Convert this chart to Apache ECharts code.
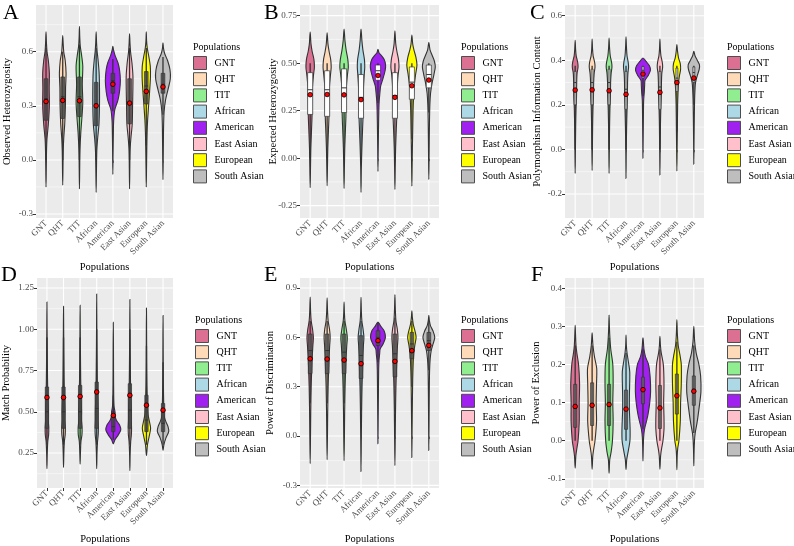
<!DOCTYPE html>
<html>
<head>
<meta charset="utf-8">
<script src="https://cdn.jsdelivr.net/npm/echarts@6/dist/echarts.min.js"></script>
<style>
  html, body { margin: 0; padding: 0; background: #fff; }
  #chart { width: 794px; height: 546px; }
</style>
</head>
<body>
<div id="chart"></div>
<script>
// populations, in plot order
var POPS = ['GNT', 'QHT', 'TIT', 'African', 'American', 'East Asian', 'European', 'South Asian'];
var COLORS = ['#DB7093', '#FFDAB9', '#90EE90', '#ADD8E6', '#A020F0', '#FFC0CB', '#FFFF00', '#BEBEBE'];

// violin outlines: [value, half width in x units], bottom tip to top tip
// box stats: [lower whisker, q1, median, q3, upper whisker]

// A - observed heterozygosity
var obsHetTicks = [-0.3, 0, 0.3, 0.6];
var obsHetMinor = [-0.15, 0.15, 0.45, 0.75];
var obsHetViolin = [
    [[-0.15,0],[-0.05,0.015],[0.05,0.03],[0.12,0.06],[0.2,0.14],[0.3,0.2],[0.4,0.19],[0.48,0.2],[0.55,0.14],[0.6,0.06],[0.65,0.025],[0.71,0]],
    [[-0.14,0],[-0.05,0.015],[0.05,0.03],[0.12,0.06],[0.2,0.12],[0.3,0.16],[0.4,0.17],[0.48,0.2],[0.55,0.15],[0.6,0.06],[0.65,0.025],[0.69,0]],
    [[-0.16,0],[-0.05,0.015],[0.05,0.03],[0.15,0.08],[0.25,0.16],[0.32,0.2],[0.42,0.17],[0.52,0.2],[0.58,0.13],[0.63,0.05],[0.68,0.02],[0.74,0]],
    [[-0.18,0],[-0.05,0.02],[0.05,0.04],[0.12,0.09],[0.2,0.17],[0.3,0.2],[0.4,0.2],[0.48,0.18],[0.55,0.12],[0.6,0.06],[0.65,0.025],[0.71,0]],
    [[-0.08,0],[0.05,0.015],[0.15,0.03],[0.22,0.05],[0.28,0.12],[0.33,0.3],[0.38,0.4],[0.44,0.45],[0.5,0.4],[0.54,0.3],[0.58,0.13],[0.61,0.04],[0.63,0]],
    [[-0.16,0],[-0.05,0.015],[0.05,0.03],[0.12,0.08],[0.2,0.16],[0.3,0.18],[0.4,0.2],[0.47,0.2],[0.54,0.14],[0.6,0.06],[0.65,0.025],[0.7,0]],
    [[-0.15,0],[-0.05,0.015],[0.05,0.03],[0.15,0.05],[0.22,0.08],[0.3,0.14],[0.38,0.2],[0.46,0.25],[0.52,0.24],[0.57,0.16],[0.62,0.06],[0.66,0.02],[0.71,0]],
    [[-0.11,0],[0.0,0.015],[0.1,0.025],[0.2,0.04],[0.27,0.07],[0.33,0.15],[0.39,0.3],[0.45,0.44],[0.5,0.42],[0.55,0.28],[0.59,0.1],[0.62,0.03],[0.65,0]]
];
var obsHetBox = [[0.0,0.22,0.34,0.45,0.62],[0.0,0.23,0.35,0.46,0.6],[0.0,0.24,0.35,0.46,0.64],[0.0,0.19,0.31,0.43,0.62],
    [0.27,0.37,0.44,0.48,0.56],[0.0,0.2,0.32,0.45,0.62],[0.08,0.31,0.41,0.49,0.62],[0.25,0.37,0.42,0.48,0.57]];
var obsHetMean = [0.324, 0.33, 0.328, 0.30, 0.42, 0.315, 0.38, 0.405];

// B - expected heterozygosity
var expHetTicks = [-0.25, 0, 0.25, 0.5, 0.75];
var expHetMinor = [-0.125, 0.125, 0.375, 0.625];
var expHetViolin = [
    [[-0.156,0],[-0.05,0.02],[0.05,0.04],[0.15,0.08],[0.22,0.11],[0.3,0.12],[0.38,0.14],[0.44,0.2],[0.48,0.25],[0.52,0.22],[0.56,0.12],[0.6,0.05],[0.663,0]],
    [[-0.145,0],[-0.05,0.02],[0.05,0.04],[0.15,0.08],[0.22,0.11],[0.3,0.12],[0.38,0.14],[0.44,0.2],[0.48,0.24],[0.52,0.21],[0.56,0.12],[0.6,0.05],[0.66,0]],
    [[-0.16,0],[-0.05,0.02],[0.05,0.04],[0.15,0.08],[0.22,0.11],[0.3,0.12],[0.38,0.14],[0.44,0.2],[0.48,0.25],[0.52,0.22],[0.57,0.12],[0.62,0.05],[0.68,0]],
    [[-0.18,0],[-0.05,0.02],[0.05,0.05],[0.15,0.09],[0.22,0.12],[0.3,0.13],[0.38,0.15],[0.44,0.19],[0.48,0.22],[0.52,0.2],[0.57,0.11],[0.62,0.05],[0.68,0]],
    [[-0.07,0],[0.05,0.015],[0.15,0.03],[0.25,0.05],[0.3,0.07],[0.34,0.11],[0.38,0.16],[0.42,0.3],[0.46,0.42],[0.49,0.45],[0.52,0.36],[0.54,0.2],[0.555,0.06],[0.573,0]],
    [[-0.165,0],[-0.05,0.02],[0.05,0.04],[0.15,0.08],[0.22,0.11],[0.3,0.12],[0.38,0.14],[0.44,0.19],[0.48,0.24],[0.52,0.21],[0.56,0.12],[0.6,0.05],[0.67,0]],
    [[-0.147,0],[-0.05,0.015],[0.05,0.03],[0.15,0.05],[0.25,0.07],[0.32,0.1],[0.38,0.14],[0.44,0.22],[0.49,0.3],[0.53,0.24],[0.57,0.12],[0.6,0.05],[0.648,0]],
    [[-0.112,0],[0.0,0.015],[0.1,0.025],[0.2,0.04],[0.28,0.06],[0.34,0.1],[0.39,0.18],[0.44,0.3],[0.48,0.38],[0.51,0.33],[0.54,0.2],[0.57,0.07],[0.61,0]]
];
var expHetBox = [[0.0,0.23,0.36,0.45,0.5],[0.0,0.22,0.36,0.46,0.5],[0.0,0.24,0.37,0.47,0.5],[0.0,0.21,0.32,0.44,0.5],
    [0.29,0.41,0.46,0.49,0.5],[0.0,0.21,0.33,0.45,0.5],[0.1,0.31,0.4,0.48,0.5],[0.24,0.37,0.44,0.49,0.5]];
var expHetMean = [0.334, 0.335, 0.333, 0.308, 0.435, 0.32, 0.381, 0.411];

// C - polymorphism information content
var picTicks = [-0.2, 0, 0.2, 0.4, 0.6];
var picMinor = [-0.1, 0.1, 0.3, 0.5];
var picViolin = [
    [[-0.108,0],[0.0,0.015],[0.1,0.03],[0.18,0.05],[0.24,0.08],[0.3,0.09],[0.34,0.11],[0.37,0.17],[0.39,0.15],[0.42,0.06],[0.45,0.025],[0.49,0]],
    [[-0.095,0],[0.0,0.015],[0.1,0.03],[0.18,0.05],[0.24,0.08],[0.3,0.09],[0.34,0.12],[0.37,0.17],[0.39,0.15],[0.42,0.06],[0.45,0.025],[0.495,0]],
    [[-0.108,0],[0.0,0.015],[0.1,0.03],[0.18,0.05],[0.24,0.08],[0.3,0.09],[0.34,0.12],[0.37,0.17],[0.39,0.15],[0.42,0.07],[0.46,0.025],[0.5,0]],
    [[-0.13,0],[0.0,0.015],[0.1,0.035],[0.18,0.06],[0.24,0.08],[0.3,0.09],[0.34,0.11],[0.37,0.15],[0.39,0.13],[0.42,0.06],[0.46,0.025],[0.505,0]],
    [[-0.04,0],[0.05,0.012],[0.15,0.025],[0.22,0.04],[0.26,0.08],[0.29,0.1],[0.31,0.12],[0.33,0.3],[0.355,0.44],[0.375,0.38],[0.395,0.18],[0.41,0]],
    [[-0.115,0],[0.0,0.015],[0.1,0.03],[0.18,0.05],[0.24,0.08],[0.3,0.09],[0.34,0.11],[0.37,0.16],[0.39,0.14],[0.42,0.06],[0.45,0.025],[0.495,0]],
    [[-0.097,0],[0.0,0.015],[0.1,0.03],[0.2,0.045],[0.26,0.07],[0.3,0.1],[0.33,0.15],[0.36,0.22],[0.385,0.2],[0.41,0.1],[0.44,0.04],[0.47,0]],
    [[-0.066,0],[0.05,0.015],[0.15,0.03],[0.22,0.045],[0.27,0.07],[0.3,0.1],[0.33,0.2],[0.36,0.32],[0.38,0.33],[0.4,0.2],[0.42,0.07],[0.44,0]]
];
var picBox = [[0.0,0.2,0.3,0.35,0.375],[0.0,0.2,0.3,0.36,0.375],[0.0,0.2,0.3,0.36,0.375],[0.0,0.18,0.27,0.35,0.375],
    [0.24,0.32,0.355,0.372,0.375],[0.0,0.18,0.28,0.35,0.375],[0.08,0.26,0.32,0.365,0.375],[0.2,0.3,0.345,0.37,0.375]];
var picMean = [0.266, 0.267, 0.263, 0.247, 0.338, 0.256, 0.30, 0.32];

// D - match probability
var mpTicks = [0.25, 0.5, 0.75, 1.0, 1.25];
var mpMinor = [0.125, 0.375, 0.625, 0.875, 1.125];
var mpViolin = [
    [[0.155,0],[0.25,0.02],[0.32,0.05],[0.36,0.1],[0.4,0.11],[0.45,0.08],[0.5,0.085],[0.55,0.07],[0.62,0.05],[0.7,0.035],[0.85,0.02],[1.0,0.01],[1.165,0]],
    [[0.163,0],[0.25,0.02],[0.32,0.05],[0.36,0.1],[0.4,0.11],[0.45,0.08],[0.5,0.085],[0.55,0.07],[0.62,0.05],[0.7,0.035],[0.85,0.02],[1.0,0.01],[1.14,0]],
    [[0.183,0],[0.25,0.02],[0.32,0.05],[0.36,0.11],[0.4,0.12],[0.45,0.08],[0.5,0.085],[0.55,0.07],[0.62,0.05],[0.7,0.035],[0.85,0.02],[1.0,0.01],[1.145,0]],
    [[0.155,0],[0.25,0.02],[0.32,0.05],[0.36,0.09],[0.4,0.1],[0.45,0.08],[0.5,0.08],[0.55,0.07],[0.62,0.05],[0.7,0.035],[0.85,0.02],[1.0,0.01],[1.214,0]],
    [[0.305,0],[0.33,0.1],[0.36,0.3],[0.39,0.45],[0.42,0.38],[0.45,0.18],[0.48,0.1],[0.5,0.1],[0.53,0.05],[0.6,0.025],[0.75,0.015],[0.9,0.01],[1.042,0]],
    [[0.143,0],[0.25,0.02],[0.32,0.05],[0.36,0.09],[0.4,0.1],[0.45,0.08],[0.5,0.08],[0.55,0.07],[0.62,0.05],[0.7,0.035],[0.85,0.02],[1.0,0.01],[1.18,0]],
    [[0.234,0],[0.3,0.06],[0.35,0.16],[0.4,0.25],[0.44,0.18],[0.48,0.1],[0.52,0.07],[0.58,0.05],[0.66,0.03],[0.8,0.015],[1.0,0.008],[1.129,0]],
    [[0.266,0],[0.3,0.05],[0.34,0.17],[0.38,0.34],[0.41,0.3],[0.44,0.17],[0.47,0.08],[0.52,0.05],[0.6,0.03],[0.75,0.015],[0.95,0.008],[1.084,0]]
];
var mpBox = [[0.3,0.4,0.5,0.65,0.95],[0.3,0.4,0.5,0.65,0.95],[0.3,0.4,0.5,0.66,0.95],[0.3,0.4,0.52,0.68,1.0],
    [0.33,0.38,0.41,0.5,0.6],[0.3,0.4,0.51,0.67,1.0],[0.3,0.38,0.45,0.6,0.9],[0.3,0.38,0.43,0.55,0.8]];
var mpMean = [0.587, 0.587, 0.593, 0.62, 0.478, 0.6, 0.54, 0.51];

// E - power of discrimination
var pdTicks = [-0.3, 0, 0.3, 0.6, 0.9];
var pdMinor = [-0.15, 0.15, 0.45, 0.75];
var pdViolin = [
    [[-0.168,0],[0.0,0.02],[0.15,0.035],[0.3,0.06],[0.4,0.09],[0.48,0.12],[0.55,0.16],[0.6,0.19],[0.65,0.14],[0.7,0.06],[0.76,0.025],[0.845,0]],
    [[-0.144,0],[0.0,0.02],[0.15,0.035],[0.3,0.06],[0.4,0.09],[0.48,0.12],[0.55,0.15],[0.6,0.18],[0.65,0.14],[0.7,0.06],[0.76,0.025],[0.84,0]],
    [[-0.15,0],[0.0,0.02],[0.15,0.035],[0.3,0.06],[0.4,0.09],[0.48,0.12],[0.55,0.16],[0.6,0.19],[0.65,0.13],[0.7,0.05],[0.75,0.02],[0.815,0]],
    [[-0.215,0],[0.0,0.02],[0.15,0.035],[0.3,0.06],[0.4,0.09],[0.48,0.11],[0.55,0.14],[0.6,0.17],[0.65,0.12],[0.7,0.05],[0.76,0.02],[0.843,0]],
    [[-0.047,0],[0.1,0.012],[0.25,0.025],[0.4,0.04],[0.46,0.06],[0.5,0.1],[0.53,0.13],[0.56,0.3],[0.6,0.44],[0.64,0.36],[0.67,0.15],[0.693,0]],
    [[-0.18,0],[0.0,0.02],[0.15,0.035],[0.3,0.06],[0.4,0.09],[0.48,0.12],[0.55,0.15],[0.6,0.18],[0.65,0.14],[0.7,0.06],[0.77,0.025],[0.86,0]],
    [[-0.13,0],[0.05,0.015],[0.2,0.03],[0.35,0.05],[0.45,0.08],[0.5,0.11],[0.55,0.17],[0.6,0.25],[0.64,0.18],[0.68,0.08],[0.72,0.03],[0.762,0]],
    [[-0.087,0],[0.1,0.015],[0.25,0.025],[0.4,0.045],[0.47,0.08],[0.52,0.14],[0.56,0.25],[0.6,0.35],[0.64,0.24],[0.67,0.1],[0.7,0.035],[0.734,0]]
];
var pdBox = [[0.2,0.38,0.52,0.62,0.7],[0.2,0.38,0.52,0.62,0.7],[0.2,0.38,0.51,0.62,0.7],[0.15,0.35,0.49,0.61,0.7],
    [0.45,0.55,0.6,0.64,0.69],[0.15,0.36,0.5,0.62,0.72],[0.3,0.47,0.56,0.63,0.7],[0.4,0.52,0.58,0.63,0.7]];
var pdMean = [0.47, 0.468, 0.462, 0.44, 0.58, 0.454, 0.519, 0.551];

// F - power of exclusion
var peTicks = [-0.1, 0, 0.1, 0.2, 0.3, 0.4];
var peMinor = [-0.05, 0.05, 0.15, 0.25, 0.35];
var peViolin = [
    [[-0.072,0],[-0.04,0.04],[-0.02,0.1],[0.0,0.17],[0.05,0.24],[0.1,0.24],[0.15,0.26],[0.2,0.2],[0.23,0.1],[0.25,0.05],[0.28,0.02],[0.303,0]],
    [[-0.075,0],[-0.04,0.04],[-0.02,0.1],[0.0,0.17],[0.05,0.26],[0.1,0.24],[0.15,0.26],[0.19,0.27],[0.22,0.14],[0.25,0.05],[0.27,0.02],[0.283,0]],
    [[-0.085,0],[-0.05,0.04],[-0.03,0.12],[0.0,0.2],[0.05,0.24],[0.1,0.22],[0.15,0.24],[0.2,0.22],[0.24,0.1],[0.27,0.05],[0.3,0.02],[0.33,0]],
    [[-0.076,0],[-0.05,0.04],[-0.03,0.12],[0.0,0.23],[0.03,0.24],[0.08,0.2],[0.12,0.2],[0.18,0.22],[0.21,0.13],[0.23,0.06],[0.25,0.02],[0.277,0]],
    [[-0.053,0],[-0.02,0.015],[0.01,0.04],[0.03,0.09],[0.05,0.2],[0.07,0.3],[0.1,0.4],[0.13,0.45],[0.17,0.42],[0.2,0.33],[0.22,0.15],[0.24,0.06],[0.27,0]],
    [[-0.075,0],[-0.04,0.04],[-0.02,0.1],[0.0,0.18],[0.03,0.24],[0.06,0.24],[0.1,0.22],[0.15,0.24],[0.2,0.2],[0.23,0.08],[0.25,0.03],[0.274,0]],
    [[-0.076,0],[-0.04,0.02],[-0.02,0.05],[0.0,0.12],[0.05,0.2],[0.1,0.22],[0.15,0.26],[0.2,0.26],[0.22,0.2],[0.25,0.08],[0.28,0.03],[0.318,0]],
    [[-0.066,0],[-0.03,0.015],[0.0,0.04],[0.02,0.08],[0.05,0.2],[0.1,0.35],[0.13,0.42],[0.17,0.4],[0.2,0.3],[0.23,0.14],[0.26,0.05],[0.3,0]]
];
var peBox = [[0.0,0.035,0.085,0.148,0.25],[0.0,0.04,0.09,0.152,0.25],[0.0,0.04,0.09,0.148,0.27],[0.0,0.03,0.08,0.133,0.23],
    [0.03,0.097,0.135,0.167,0.24],[0.0,0.032,0.085,0.145,0.24],[0.0,0.07,0.12,0.175,0.26],[0.02,0.093,0.135,0.17,0.25]];
var peMean = [0.09, 0.093, 0.095, 0.083, 0.134, 0.086, 0.118, 0.13];

var FONT = 'Liberation Serif';

var panels = [
    {letter: 'A', name: 'Observed Heterozygosity', violin: obsHetViolin, box: obsHetBox, mean: obsHetMean,
     ticks: obsHetTicks, minor: obsHetMinor, digits: 1, min: -0.322, max: 0.859,
     rect: [36, 5, 137, 213], nameGap: 23, xGap: 44, letterPos: [3, 2], legend: [193, 56],
     boxFill: 'rgba(70,70,70,0.8)', boxW: 0.22},
    {letter: 'B', name: 'Expected Heterozygosity', violin: expHetViolin, box: expHetBox, mean: expHetMean,
     ticks: expHetTicks, minor: expHetMinor, digits: 2, min: -0.315, max: 0.806,
     rect: [300, 5, 139, 213], nameGap: 21, xGap: 44, letterPos: [264, 2], legend: [461, 56],
     boxFill: '#ffffff', boxW: 0.3},
    {letter: 'C', name: 'Polymorphism Information Content', violin: picViolin, box: picBox, mean: picMean,
     ticks: picTicks, minor: picMinor, digits: 1, min: -0.308, max: 0.648,
     rect: [565, 5, 139, 213], nameGap: 22, xGap: 44, letterPos: [530, 2], legend: [727, 56],
     boxFill: 'rgba(225,225,225,0.85)', boxW: 0.12},
    {letter: 'D', name: 'Match Probability', violin: mpViolin, box: mpBox, mean: mpMean,
     ticks: mpTicks, minor: mpMinor, digits: 2, min: 0.038, max: 1.311,
     rect: [37, 278, 136, 210], nameGap: 25, xGap: 46, letterPos: [1, 264], legend: [195, 329],
     boxFill: 'rgba(70,70,70,0.85)', boxW: 0.2},
    {letter: 'E', name: 'Power of Discrimination', violin: pdViolin, box: pdBox, mean: pdMean,
     ticks: pdTicks, minor: pdMinor, digits: 1, min: -0.316, max: 0.961,
     rect: [300, 278, 139, 210], nameGap: 24, xGap: 46, letterPos: [264, 264], legend: [461, 329],
     boxFill: 'rgba(85,85,85,0.8)', boxW: 0.22},
    {letter: 'F', name: 'Power of Exclusion', violin: peViolin, box: peBox, mean: peMean,
     ticks: peTicks, minor: peMinor, digits: 1, min: -0.124, max: 0.427,
     rect: [565, 278, 139, 210], nameGap: 23, xGap: 46, letterPos: [531, 264], legend: [727, 329],
     boxFill: 'rgba(95,95,95,0.8)', boxW: 0.18}
];

var POS = POPS.map(function (d, i) { return i + 1; });

function gridRender(params, api) {
    var cs = params.coordSys;
    var kind = api.value(2);
    var p = api.coord([api.value(0), api.value(1)]);
    var shape = kind === 2
        ? {x1: p[0], y1: cs.y, x2: p[0], y2: cs.y + cs.height}
        : {x1: cs.x, y1: p[1], x2: cs.x + cs.width, y2: p[1]};
    return {
        type: 'line', shape: shape, silent: true,
        style: {stroke: '#ffffff', lineWidth: kind === 0 ? 0.5 : 1.1}
    };
}

function makeViolin(profile, boxW, boxFill) {
    return function (params, api) {
        var x = api.value(0);
        var pts = [];
        var k;
        for (k = 0; k < profile.length; k++) {
            pts.push(api.coord([x - profile[k][1], profile[k][0]]));
        }
        for (k = profile.length - 2; k > 0; k--) {
            pts.push(api.coord([x + profile[k][1], profile[k][0]]));
        }
        var lo = api.coord([x, api.value(1)]);
        var hi = api.coord([x, api.value(5)]);
        var q3l = api.coord([x - boxW / 2, api.value(4)]);
        var q1r = api.coord([x + boxW / 2, api.value(2)]);
        var med = api.coord([x, api.value(3)]);
        var mean = api.coord([x, api.value(6)]);
        return {
            type: 'group',
            children: [
                {type: 'polygon', shape: {points: pts, smooth: 0.3},
                 style: {fill: api.visual('color'), stroke: '#333333', lineWidth: 1.1}},
                {type: 'line', shape: {x1: lo[0], y1: lo[1], x2: hi[0], y2: hi[1]},
                 style: {stroke: '#333333', lineWidth: 1.3}},
                {type: 'rect', shape: {x: q3l[0], y: q3l[1], width: q1r[0] - q3l[0], height: q1r[1] - q3l[1]},
                 style: {fill: boxFill, stroke: '#333333', lineWidth: 0.7}},
                {type: 'line', shape: {x1: q3l[0], y1: med[1], x2: q1r[0], y2: med[1]},
                 style: {stroke: '#333333', lineWidth: 1}},
                {type: 'circle', shape: {cx: mean[0], cy: mean[1], r: 2.3},
                 style: {fill: '#ff0000', stroke: '#000000', lineWidth: 0.8}}
            ]
        };
    };
}

var grids = [], xAxes = [], yAxes = [], series = [], legends = [], titles = [];

panels.forEach(function (p, pi) {
    grids.push({left: p.rect[0], top: p.rect[1], width: p.rect[2], height: p.rect[3],
        show: true, backgroundColor: '#EBEBEB', borderWidth: 0});
    xAxes.push({
        gridIndex: pi, type: 'value', min: 0.4, max: 8.6,
        axisLine: {show: false}, splitLine: {show: false},
        axisTick: {customValues: POS, length: 3, lineStyle: {color: '#333333'}},
        axisLabel: {customValues: POS, rotate: 45, margin: 4, fontSize: 9, color: '#4d4d4d', fontFamily: FONT,
            formatter: function (v) { return POPS[Math.round(v) - 1]; }},
        name: 'Populations', nameLocation: 'middle', nameGap: p.xGap, nameMoveOverlap: false,
        nameTextStyle: {fontFamily: FONT, fontSize: 10.5, color: '#000'}
    });
    yAxes.push({
        gridIndex: pi, type: 'value', min: p.min, max: p.max,
        axisLine: {show: false}, splitLine: {show: false},
        axisTick: {customValues: p.ticks, length: 3, lineStyle: {color: '#333333'}},
        axisLabel: {customValues: p.ticks, margin: 3, fontSize: 9, color: '#4d4d4d', fontFamily: FONT,
            formatter: (function (d) { return function (v) { return v.toFixed(d); }; })(p.digits)},
        name: p.name, nameLocation: 'middle', nameRotate: 90, nameGap: p.nameGap, nameMoveOverlap: false,
        nameTextStyle: {fontFamily: FONT, fontSize: 10.5, color: '#000'}
    });

    var lines = p.minor.map(function (v) { return [1, v, 0]; })
        .concat(p.ticks.map(function (v) { return [1, v, 1]; }))
        .concat(POS.map(function (x) { return [x, p.min, 2]; }));
    series.push({type: 'custom', xAxisIndex: pi, yAxisIndex: pi, z: 1, silent: true,
        encode: {x: 0, y: 1}, data: lines, renderItem: gridRender});

    POPS.forEach(function (name, i) {
        series.push({
            type: 'custom', name: name, xAxisIndex: pi, yAxisIndex: pi, z: 2,
            itemStyle: {color: COLORS[i]},
            encode: {x: 0, y: [1, 2, 3, 4, 5, 6]},
            data: [[i + 1].concat(p.box[i], [p.mean[i]])],
            renderItem: makeViolin(p.violin[i], p.boxW, p.boxFill)
        });
    });

    legends.push({
        data: POPS, orient: 'vertical', left: p.legend[0], top: p.legend[1], padding: 0,
        itemWidth: 13, itemHeight: 13, itemGap: 2.2, icon: 'rect', selectedMode: false,
        itemStyle: {borderColor: '#4d4d4d', borderWidth: 1},
        textStyle: {fontFamily: FONT, fontSize: 10, color: '#000', lineHeight: 13, padding: [0, 0, 0, 3]}
    });

    titles.push({text: p.letter, left: p.letterPos[0], top: p.letterPos[1], padding: 0,
        textStyle: {fontFamily: FONT, fontSize: 22, fontWeight: 'normal', color: '#000'}});
    titles.push({text: 'Populations', left: p.legend[0], top: p.legend[1] - 14, padding: 0,
        textStyle: {fontFamily: FONT, fontSize: 10, fontWeight: 'normal', color: '#000'}});
});

var chart = echarts.init(document.getElementById('chart'));
chart.setOption({
    animation: false,
    backgroundColor: '#ffffff',
    title: titles,
    legend: legends,
    grid: grids,
    xAxis: xAxes,
    yAxis: yAxes,
    series: series
});
</script>
</body>
</html>
